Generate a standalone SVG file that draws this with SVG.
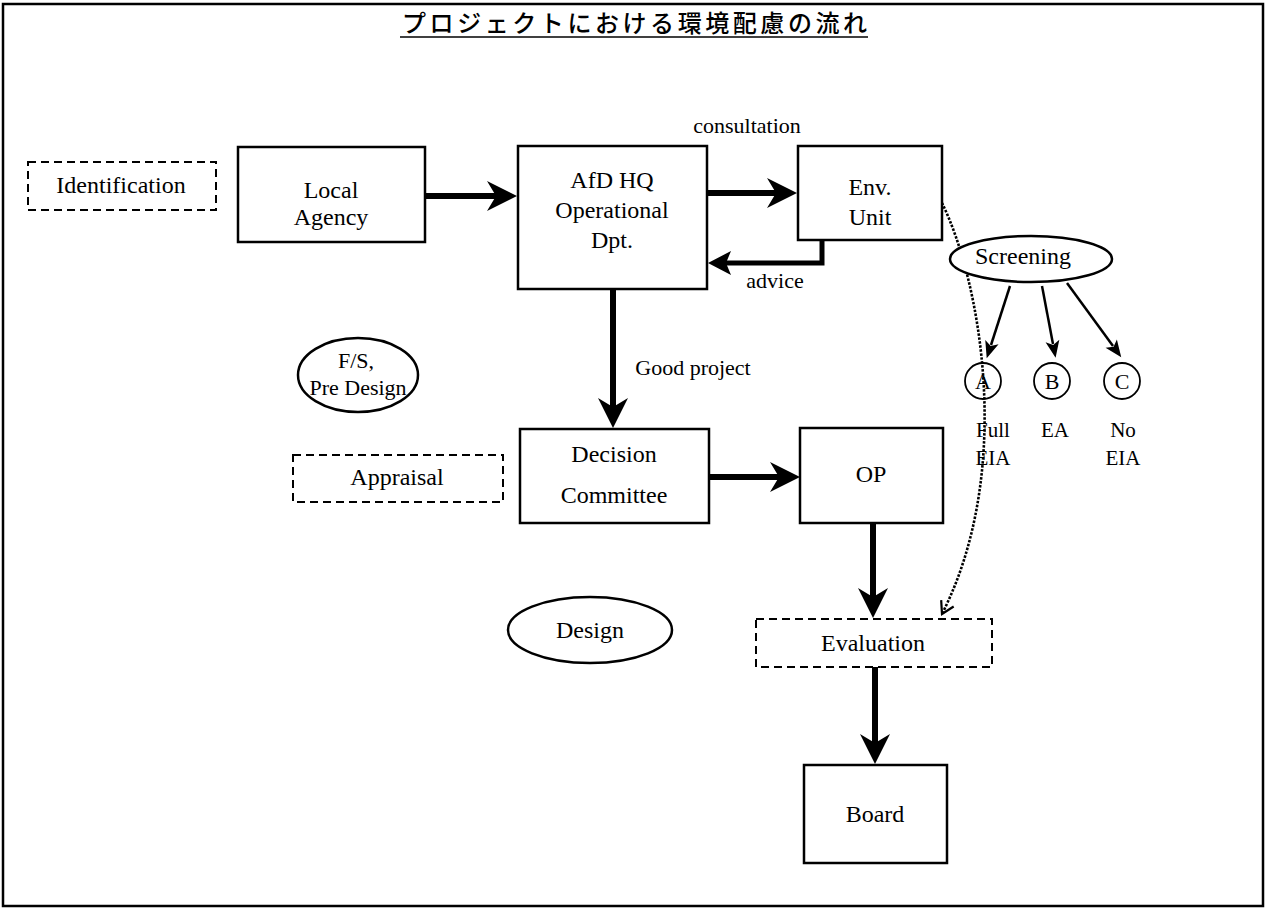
<svg xmlns="http://www.w3.org/2000/svg" width="1270" height="908" viewBox="0 0 1270 908">
<style>
  text { font-family: "Liberation Serif", "Times New Roman", serif; fill: #000; text-anchor: middle; }
  .t24 { font-size: 24px; }
  .t22 { font-size: 22px; }
  .t20 { font-size: 21px; }
  .title { font-family: "Noto Sans CJK JP", "Noto Sans CJK SC", sans-serif; font-size: 24px; font-weight: 500; text-anchor: start; }
  .box { fill: #fff; stroke: #000; stroke-width: 2.5; }
  .dbox { fill: #fff; stroke: #000; stroke-width: 2; stroke-dasharray: 8 5; }
  .ell { fill: #fff; stroke: #000; stroke-width: 2.5; }
  .big { fill: none; stroke: #000; stroke-width: 6; marker-end: url(#bigHead); }
  .mid { fill: none; stroke: #000; stroke-width: 5; marker-end: url(#midHead); }
  .thin { fill: none; stroke: #000; stroke-width: 2.5; marker-end: url(#thinHead); }
  .dot { fill: none; stroke: #000; stroke-width: 2.6; stroke-dasharray: 2.5 1.5; marker-end: url(#openHead); }
</style>
<defs>
  <marker id="bigHead" viewBox="-12 -17 34 34" refX="0" refY="0" markerWidth="34" markerHeight="34" markerUnits="userSpaceOnUse" orient="auto">
    <path d="M20,0 L-10,-15 L-1,0 L-10,15 Z" fill="#000"/>
  </marker>
  <marker id="midHead" viewBox="-6 -14 28 28" refX="0" refY="0" markerWidth="28" markerHeight="28" markerUnits="userSpaceOnUse" orient="auto">
    <path d="M18,0 L-5,-12 L0,0 L-5,12 Z" fill="#000"/>
  </marker>
  <marker id="thinHead" viewBox="-4 -9 22 18" refX="0" refY="0" markerWidth="22" markerHeight="18" markerUnits="userSpaceOnUse" orient="auto">
    <path d="M14,0 L-3,-7 L1,0 L-3,7 Z" fill="#000"/>
  </marker>
  <marker id="openHead" viewBox="-14 -9 16 18" refX="0" refY="0" markerWidth="16" markerHeight="18" markerUnits="userSpaceOnUse" orient="auto">
    <path d="M-12,-7 L0,0 L-12,7" fill="none" stroke="#000" stroke-width="2.2"/>
  </marker>
</defs>

<rect x="3" y="4" width="1260" height="902" fill="#fff" stroke="#000" stroke-width="2.5"/>

<g id="title">
  <text class="title" x="402" y="32" textLength="465" lengthAdjust="spacing">プロジェクトにおける環境配慮の流れ</text>
  <line x1="400" y1="37" x2="868" y2="37" stroke="#000" stroke-width="1.5"/>
</g>

<g id="connectors">
  <line class="big" x1="425" y1="196" x2="497" y2="196"/>
  <line class="big" x1="707" y1="193" x2="777" y2="193"/>
  <path class="mid" d="M822,240 L822,263 L726,263"/>
  <line class="big" x1="613" y1="289" x2="613" y2="408"/>
  <line class="big" x1="709" y1="477" x2="780" y2="477"/>
  <line class="big" x1="873" y1="523" x2="873" y2="598"/>
  <line class="big" x1="875" y1="667" x2="875" y2="744"/>
  <line class="thin" x1="1010" y1="286" x2="991" y2="345"/>
  <line class="thin" x1="1042" y1="286" x2="1053" y2="344"/>
  <line class="thin" x1="1067" y1="283" x2="1113" y2="346"/>
  <path class="dot" d="M942,203 C980,280 1015,470 942,614"/>
</g>

<g id="identification">
  <rect class="dbox" x="28" y="162" width="188" height="48"/>
  <text class="t24" x="121" y="193">Identification</text>
</g>
<g id="local-agency">
  <rect class="box" x="238" y="147" width="187" height="95"/>
  <text class="t24" x="331" y="198">Local</text>
  <text class="t24" x="331" y="225">Agency</text>
</g>
<g id="afd-hq">
  <rect class="box" x="518" y="146" width="189" height="143"/>
  <text class="t24" x="612" y="188">AfD HQ</text>
  <text class="t24" x="612" y="218">Operational</text>
  <text class="t24" x="612" y="248">Dpt.</text>
</g>
<g id="env-unit">
  <rect class="box" x="798" y="146" width="144" height="94"/>
  <text class="t24" x="870" y="195">Env.</text>
  <text class="t24" x="870" y="225">Unit</text>
</g>
<g id="labels">
  <text class="t22" x="747" y="133">consultation</text>
  <text class="t22" x="775" y="288">advice</text>
  <text class="t22" x="693" y="375">Good project</text>
</g>
<g id="screening">
  <ellipse class="ell" cx="1031" cy="259" rx="81" ry="23"/>
  <text class="t24" x="1023" y="264">Screening</text>
</g>
<g id="cat-a">
  <circle cx="983" cy="381" r="18" fill="none" stroke="#000" stroke-width="1.8"/>
  <text class="t22" x="983" y="389">A</text>
  <text class="t20" x="993" y="437">Full</text>
  <text class="t20" x="993" y="465">EIA</text>
</g>
<g id="cat-b">
  <circle cx="1052" cy="381" r="18" fill="none" stroke="#000" stroke-width="1.8"/>
  <text class="t22" x="1052" y="389">B</text>
  <text class="t20" x="1055" y="437">EA</text>
</g>
<g id="cat-c">
  <circle cx="1122" cy="381" r="18" fill="none" stroke="#000" stroke-width="1.8"/>
  <text class="t22" x="1122" y="389">C</text>
  <text class="t20" x="1123" y="437">No</text>
  <text class="t20" x="1123" y="465">EIA</text>
</g>
<g id="fs-predesign">
  <ellipse class="ell" cx="358" cy="375" rx="60" ry="37"/>
  <text class="t22" x="356" y="368">F/S,</text>
  <text class="t22" x="358" y="395">Pre Design</text>
</g>
<g id="appraisal">
  <rect class="dbox" x="293" y="455" width="210" height="47"/>
  <text class="t24" x="397" y="485">Appraisal</text>
</g>
<g id="decision-committee">
  <rect class="box" x="520" y="429" width="189" height="94"/>
  <text class="t24" x="614" y="462">Decision</text>
  <text class="t24" x="614" y="503">Committee</text>
</g>
<g id="op">
  <rect class="box" x="800" y="428" width="143" height="95"/>
  <text class="t24" x="871" y="482">OP</text>
</g>
<g id="design">
  <ellipse class="ell" cx="590" cy="630" rx="82" ry="33"/>
  <text class="t24" x="590" y="638">Design</text>
</g>
<g id="evaluation">
  <rect class="dbox" x="756" y="619" width="236" height="48"/>
  <text class="t24" x="873" y="651">Evaluation</text>
</g>
<g id="board">
  <rect class="box" x="804" y="765" width="143" height="98"/>
  <text class="t24" x="875" y="822">Board</text>
</g>
</svg>
